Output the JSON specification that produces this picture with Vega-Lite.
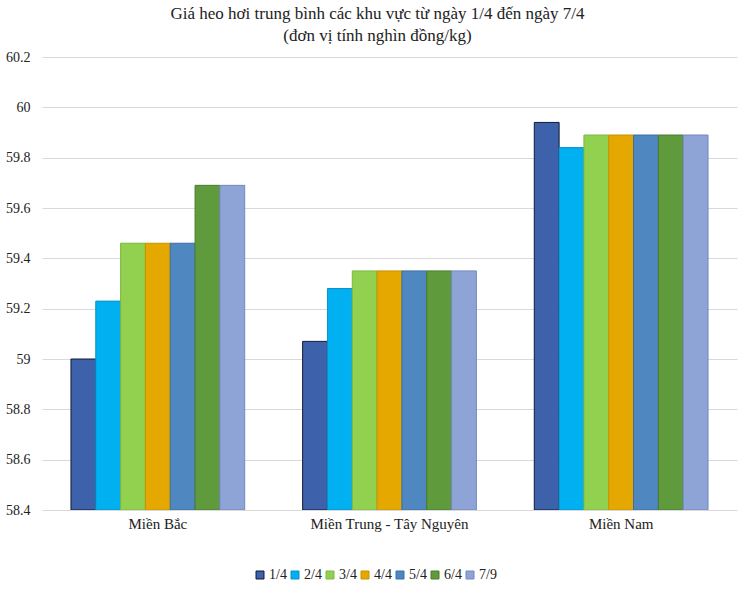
{
  "$schema": "https://vega.github.io/schema/vega-lite/v6.json",
  "width": 695,
  "height": 453,
  "autosize": "none",
  "padding": {"left": 42, "top": 57, "right": 13, "bottom": 83},
  "background": "white",
  "config": {
    "font": "Liberation Serif, Times New Roman, DejaVu Serif, serif",
    "view": {"stroke": null},
    "axis": {"labelFont": "Liberation Serif, Times New Roman, DejaVu Serif, serif"},
    "legend": {"labelFont": "Liberation Serif, Times New Roman, DejaVu Serif, serif"}
  },
  "title": {
    "text": ["Giá heo hơi trung bình các khu vực từ ngày 1/4 đến ngày 7/4", "(đơn vị tính nghìn đồng/kg)"],
    "font": "Liberation Serif, Times New Roman, DejaVu Serif, serif",
    "fontSize": 17,
    "fontWeight": "normal",
    "color": "#222222",
    "lineHeight": 22,
    "offset": 5,
    "dx": -12,
    "anchor": "middle"
  },
  "data": {
    "values": [
      {"region": "Miền Bắc", "day": "1/4", "price": 59.0},
      {"region": "Miền Bắc", "day": "2/4", "price": 59.23},
      {"region": "Miền Bắc", "day": "3/4", "price": 59.46},
      {"region": "Miền Bắc", "day": "4/4", "price": 59.46},
      {"region": "Miền Bắc", "day": "5/4", "price": 59.46},
      {"region": "Miền Bắc", "day": "6/4", "price": 59.69},
      {"region": "Miền Bắc", "day": "7/9", "price": 59.69},
      {"region": "Miền Trung - Tây Nguyên", "day": "1/4", "price": 59.07},
      {"region": "Miền Trung - Tây Nguyên", "day": "2/4", "price": 59.28},
      {"region": "Miền Trung - Tây Nguyên", "day": "3/4", "price": 59.35},
      {"region": "Miền Trung - Tây Nguyên", "day": "4/4", "price": 59.35},
      {"region": "Miền Trung - Tây Nguyên", "day": "5/4", "price": 59.35},
      {"region": "Miền Trung - Tây Nguyên", "day": "6/4", "price": 59.35},
      {"region": "Miền Trung - Tây Nguyên", "day": "7/9", "price": 59.35},
      {"region": "Miền Nam", "day": "1/4", "price": 59.94},
      {"region": "Miền Nam", "day": "2/4", "price": 59.84},
      {"region": "Miền Nam", "day": "3/4", "price": 59.89},
      {"region": "Miền Nam", "day": "4/4", "price": 59.89},
      {"region": "Miền Nam", "day": "5/4", "price": 59.89},
      {"region": "Miền Nam", "day": "6/4", "price": 59.89},
      {"region": "Miền Nam", "day": "7/9", "price": 59.89}
    ]
  },
  "mark": {"type": "bar", "strokeWidth": 1, "clip": true},
  "encoding": {
    "x": {
      "field": "region",
      "type": "nominal",
      "sort": ["Miền Bắc", "Miền Trung - Tây Nguyên", "Miền Nam"],
      "scale": {"paddingInner": 0.25, "paddingOuter": 0.125},
      "axis": {
        "title": null,
        "labelAngle": 0,
        "domain": false,
        "ticks": false,
        "labelFontSize": 15,
        "labelColor": "#222222",
        "labelPadding": 6
      }
    },
    "xOffset": {
      "field": "day",
      "type": "nominal",
      "sort": ["1/4", "2/4", "3/4", "4/4", "5/4", "6/4", "7/9"],
      "scale": {"paddingInner": 0, "paddingOuter": 0}
    },
    "y": {
      "field": "price",
      "type": "quantitative",
      "scale": {"domain": [58.4, 60.2], "zero": false, "nice": false},
      "axis": {
        "title": null,
        "values": [58.4, 58.6, 58.8, 59, 59.2, 59.4, 59.6, 59.8, 60, 60.2],
        "format": "~g",
        "domain": false,
        "ticks": false,
        "labelFontSize": 14,
        "labelColor": "#222222",
        "labelPadding": 12,
        "gridColor": "#d9d9d9",
        "gridWidth": 1
      }
    },
    "y2": {"datum": 58.4},
    "fill": {
      "field": "day",
      "type": "nominal",
      "sort": ["1/4", "2/4", "3/4", "4/4", "5/4", "6/4", "7/9"],
      "scale": {
        "domain": ["1/4", "2/4", "3/4", "4/4", "5/4", "6/4", "7/9"],
        "range": ["#3d62ab", "#00b0f0", "#92d050", "#e5a800", "#4f88c0", "#5f9a3c", "#8ea4d6"]
      },
      "legend": {
        "title": null,
        "orient": "none",
        "legendX": 211,
        "legendY": 511,
        "direction": "horizontal",
        "symbolType": "square",
        "symbolSize": 64,
        "symbolStrokeWidth": 1,
        "labelFontSize": 14,
        "labelColor": "#222222",
        "columnPadding": 1,
        "labelOffset": 2
      }
    },
    "stroke": {
      "field": "day",
      "type": "nominal",
      "sort": ["1/4", "2/4", "3/4", "4/4", "5/4", "6/4", "7/9"],
      "scale": {
        "domain": ["1/4", "2/4", "3/4", "4/4", "5/4", "6/4", "7/9"],
        "range": ["#111a33", "#0a90c6", "#7cb83e", "#c79200", "#3a6ea5", "#4a7d2c", "#7388c0"]
      },
      "legend": {
        "title": null,
        "orient": "none",
        "legendX": 211,
        "legendY": 511,
        "direction": "horizontal",
        "symbolType": "square",
        "symbolSize": 64,
        "symbolStrokeWidth": 1,
        "labelFontSize": 14,
        "labelColor": "#222222",
        "columnPadding": 1,
        "labelOffset": 2
      }
    }
  }
}
